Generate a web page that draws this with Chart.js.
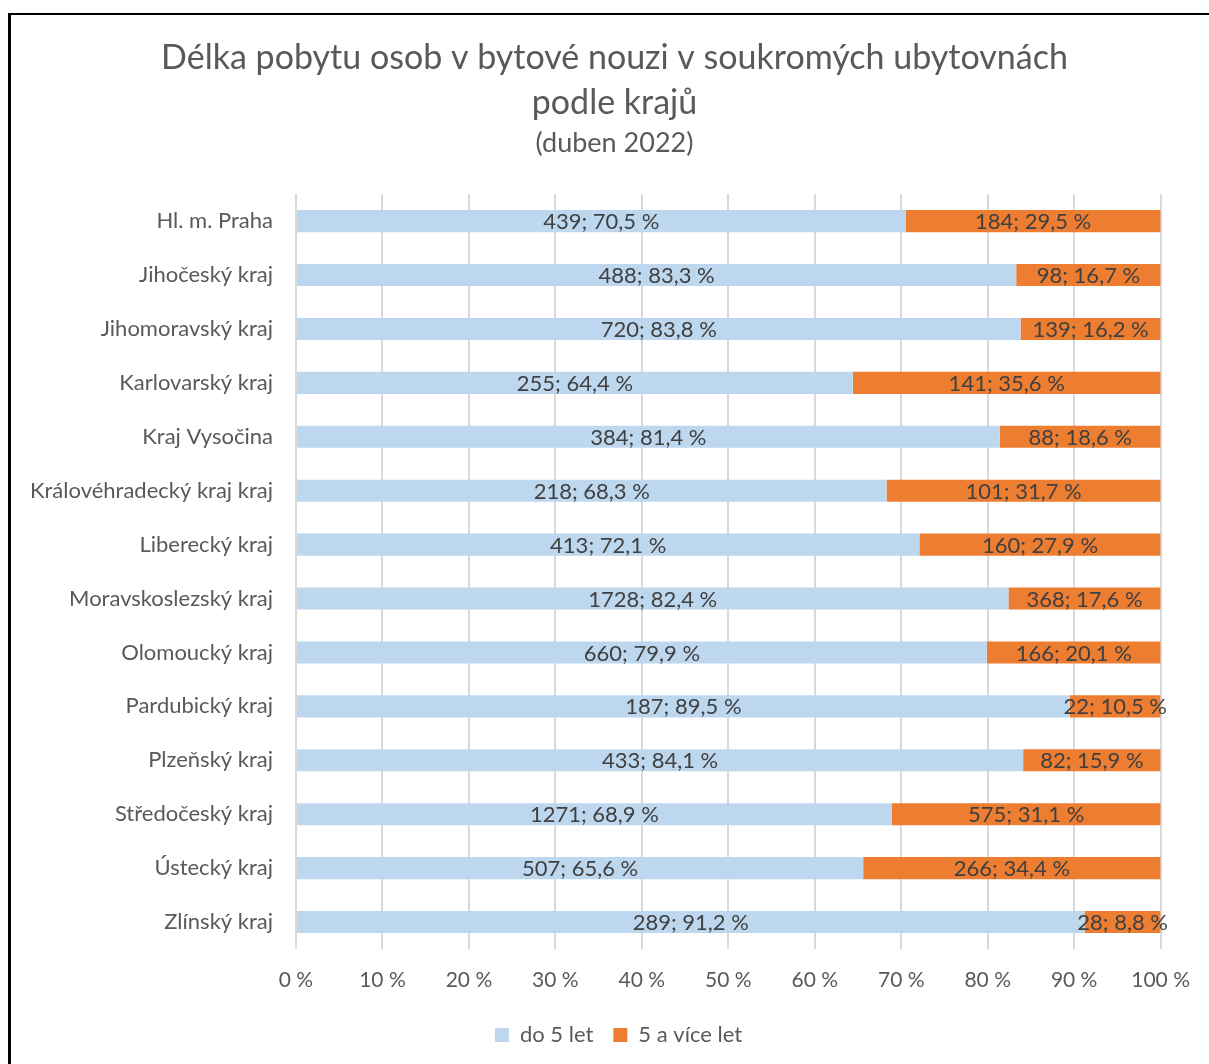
<!DOCTYPE html>
<html>
<head>
<meta charset="utf-8">
<script src="https://cdn.jsdelivr.net/npm/chart.js@4/dist/chart.umd.min.js"></script>
<style>
  body { margin: 0; background: #fff; }
  #frame {
    position: absolute; left: 8px; top: 13px; width: 1300px; height: 1200px;
    border-top: 2px solid #000; border-left: 3px solid #000; pointer-events: none;
  }
  #chart { position: absolute; left: 0; top: 0; }
</style>
</head>
<body>
<canvas id="chart" width="1209" height="1064"></canvas>
<div id="frame"></div>
<script>
const regions = [
  "Hl. m. Praha", "Jihočeský kraj", "Jihomoravský kraj", "Karlovarský kraj",
  "Kraj Vysočina", "Královéhradecký kraj kraj", "Liberecký kraj",
  "Moravskoslezský kraj", "Olomoucký kraj", "Pardubický kraj",
  "Plzeňský kraj", "Středočeský kraj", "Ústecký kraj", "Zlínský kraj"
];
const under5Count = [439, 488, 720, 255, 384, 218, 413, 1728, 660, 187, 433, 1271, 507, 289];
const under5Pct = [70.5, 83.3, 83.8, 64.4, 81.4, 68.3, 72.1, 82.4, 79.9, 89.5, 84.1, 68.9, 65.6, 91.2];
const over5Count = [184, 98, 139, 141, 88, 101, 160, 368, 166, 22, 82, 575, 266, 28];
const over5Pct = [29.5, 16.7, 16.2, 35.6, 18.6, 31.7, 27.9, 17.6, 20.1, 10.5, 15.9, 31.1, 34.4, 8.8];
const xTicks = [0, 10, 20, 30, 40, 50, 60, 70, 80, 90, 100];

const FONT = "Lato";
const TEXT = "#595959";

function fmt(v) {
  return v.toFixed(1).replace(".", ",") + " %";
}

// draws "count; pct %" centered inside each segment
const segLabels = {
  id: "segLabels",
  afterDatasetsDraw(chart) {
    const ctx = chart.ctx;
    ctx.save();
    ctx.font = "22px " + FONT;
    ctx.fillStyle = "#404040";
    ctx.textAlign = "center";
    ctx.textBaseline = "middle";
    chart.data.datasets.forEach((ds, i) => {
      chart.getDatasetMeta(i).data.forEach((bar, j) => {
        const x = (bar.base + bar.x) / 2;
        ctx.fillText(ds.counts[j] + "; " + fmt(ds.data[j]), x, bar.y + 1);
      });
    });
    ctx.restore();
  }
};

// title/subtitle/legend sit centred on the whole frame, not on the plot
const shiftBoxes = {
  id: "shiftBoxes",
  afterLayout(chart) {
    chart.boxes.forEach((b) => {
      if (b.axis) return;
      const dx = b === chart.legend ? 38 : 34;
      b.left += dx;
      b.right += dx;
    });
  }
};

new Chart(document.getElementById("chart"), {
  type: "bar",
  data: {
    labels: regions,
    datasets: [
      {
        label: "do 5 let",
        data: under5Pct,
        counts: under5Count,
        backgroundColor: "#BDD7EE",
      },
      {
        label: "5 a více let",
        data: over5Pct,
        counts: over5Count,
        backgroundColor: "#ED7D31",
      },
    ],
  },
  options: {
    indexAxis: "y",
    responsive: false,
    animation: false,
    categoryPercentage: 1,
    barPercentage: 0.41,
    layout: { padding: { top: 0, right: 48, bottom: 8, left: 0 } },
    scales: {
      x: {
        stacked: true,
        min: 0,
        max: 100,
        afterBuildTicks: (scale) => { scale.ticks = xTicks.map((v) => ({ value: v })); },
        afterFit: (scale) => { scale.height = 55; },
        ticks: {
          callback: (v) => v + " %",
          color: TEXT,
          font: { family: FONT, size: 21 },
          padding: 19,
          maxRotation: 0,
        },
        grid: { color: "#D9D9D9", lineWidth: 2, drawTicks: false },
        border: { display: false },
      },
      y: {
        stacked: true,
        afterFit: (scale) => { scale.width = 296; },
        ticks: {
          color: TEXT,
          font: { family: FONT, size: 22 },
          padding: 23,
        },
        grid: { display: false, drawTicks: false },
        border: { display: false },
      },
    },
    plugins: {
      title: {
        display: true,
        text: ["Délka pobytu osob v bytové nouzi v soukromých ubytovnách", "podle krajů"],
        color: TEXT,
        font: { family: FONT, size: 34, weight: "normal", lineHeight: 1.32 },
        padding: { top: 36, bottom: 0 },
      },
      subtitle: {
        display: true,
        text: "(duben 2022)",
        color: TEXT,
        font: { family: FONT, size: 27, lineHeight: 1.2 },
        padding: { top: 1, bottom: 35 },
      },
      legend: {
        position: "bottom",
        labels: {
          color: TEXT,
          font: { family: FONT, size: 22 },
          boxWidth: 14,
          boxHeight: 14,
          padding: 20,
        },
      },
      tooltip: { enabled: false },
    },
  },
  plugins: [segLabels, shiftBoxes],
});
</script>
</body>
</html>
